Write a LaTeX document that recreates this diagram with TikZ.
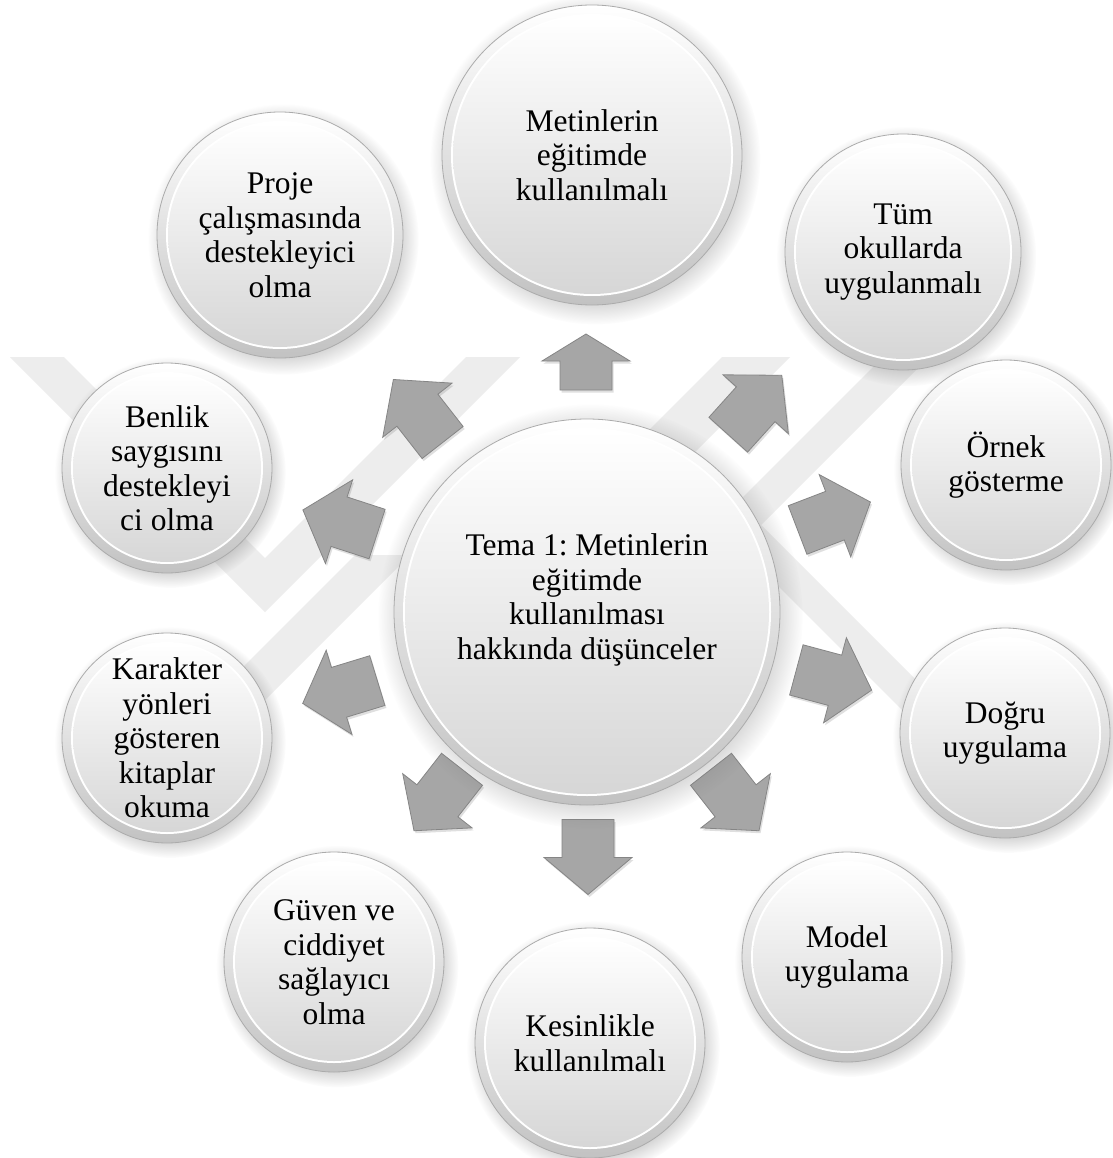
\documentclass[tikz,border=0pt]{standalone}
\usepackage{fontspec}
\setmainfont{Liberation Serif}
\usetikzlibrary{shadows,calc}
\frenchspacing
\newcommand\blkarrow[5]{%
  \begin{scope}[shift={(#1,#2)}, rotate=#3]
    \filldraw[blockarrow] ({-#4/2},-26) -- ({#4/2-#5},-26) -- ({#4/2-#5},-44) -- ({#4/2},0)
      -- ({#4/2-#5},44) -- ({#4/2-#5},26) -- ({-#4/2},26) -- cycle;
  \end{scope}}
\begin{document}
\begin{tikzpicture}[x=1pt,y=-1pt,
  bubbletext/.style={inner sep=0pt, align=center, font=\fontsize{31.5}{34.5}\selectfont},
  bubble/.style={circle, inner sep=0pt, minimum size=#1*2pt, align=center,
    draw=black!33, line width=0.8pt,
    top color=white, bottom color=black!24,
    circular drop shadow={shadow xshift=3pt, shadow yshift=-4pt, opacity=0.35},
    path picture={
      \fill[white] (path picture bounding box.center) circle[radius=#1*1pt-9pt];
      \shade[top color=white, bottom color=black!16]
        (path picture bounding box.center) circle[radius=#1*1pt-11pt];
    },
    font=\fontsize{31.5}{34.5}\selectfont},
  blockarrow/.style={fill=black!35, draw=black!48, line width=0.8pt, line join=miter,
    drop shadow={shadow xshift=1.5pt, shadow yshift=-2.5pt, opacity=0.25}},
  watermark/.style={fill=black!7}
]
\fill[white] (0,0) rectangle (1112,1158);
\useasboundingbox (0,0) rectangle (1112,1158);

% faint watermark
\fill[watermark] (10,357) -- (64,357) -- (265,558) -- (466,357) -- (520,357) -- (265,612) -- cycle;
\fill[watermark] (150,760) -- (205,760) -- (410,555) -- (355,555) -- cycle;
\fill[watermark] (722,357) -- (790,357) -- (667,480) -- (599,480) -- cycle;
\fill[watermark] (900,340) -- (946,340) -- (761,525) -- (715,525) -- cycle;
\fill[watermark] (692,500) -- (736,500) -- (956,720) -- (912,720) -- cycle;

% block arrows: x, y, angle, length, head length
\blkarrow{586}{362}{90}{56}{27}
\blkarrow{755}{405}{48}{80}{39}
\blkarrow{834}{516}{21}{78}{38}
\blkarrow{834}{680}{-15}{78}{38}
\blkarrow{735}{800}{-52}{78}{38}
\blkarrow{588}{857}{-90}{75}{37}
\blkarrow{438}{800}{-128}{78}{38}
\blkarrow{340}{692}{-163}{78}{38}
\blkarrow{340}{522}{162}{78}{38}
\blkarrow{418}{411}{128}{80}{39}

% bubbles
\node[bubble=193] (center) at (587,612) {};
\node[bubbletext] (centertext) at ($(center.center)+(0,-12)$)
  {Tema 1: Metinlerin\\eğitimde\\kullanılması\\hakkında düşünceler};
\node[bubble=150] (top) at (592,155) {Metinlerin\\eğitimde\\kullanılmalı};
\node[bubble=118] (tum) at (903,252) {Tüm\\okullarda\\uygulanmalı};
\node[bubble=105] (ornek) at (1006,465) {Örnek\\gösterme};
\node[bubble=105] (dogru) at (1005,733) {Doğru\\uygulama};
\node[bubble=105] (model) at (847,957) {Model\\uygulama};
\node[bubble=115] (kesin) at (590,1043) {Kesinlikle\\kullanılmalı};
\node[bubble=110] (guven) at (334,962) {Güven ve\\ciddiyet\\sağlayıcı\\olma};
\node[bubble=105] (karakter) at (167,738) {Karakter\\yönleri\\gösteren\\kitaplar\\okuma};
\node[bubble=105] (benlik) at (167,468) {Benlik\\saygısını\\destekleyi\\ci olma};
\node[bubble=123] (proje) at (280,235) {Proje\\çalışmasında\\destekleyici\\olma};
\end{tikzpicture}
\end{document}
